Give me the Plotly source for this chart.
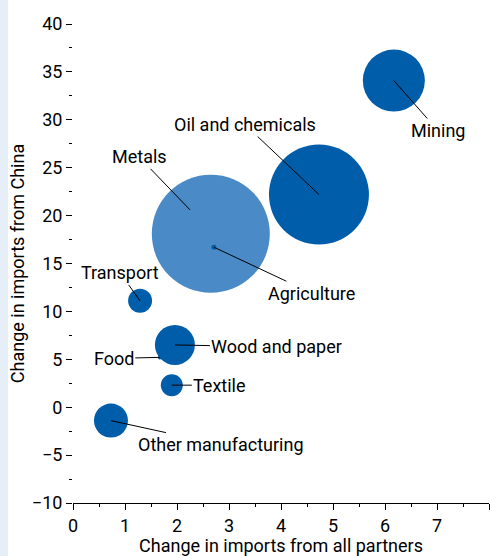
import plotly.graph_objects as go

sectors = ["Mining", "Oil and chemicals", "Metals", "Agriculture", "Transport",
           "Wood and paper", "Food", "Textile", "Other manufacturing"]
x_all = [6.17, 4.73, 2.65, 2.71, 1.29, 1.96, 1.67, 1.90, 0.73]
y_china = [34.1, 22.2, 18.1, 16.7, 11.1, 6.5, 5.2, 2.3, -1.4]
sizes = [62, 100, 118, 5, 24, 40, 4, 22, 34]
colors = ["#005DAA", "#005DAA", "#4A8AC6", "#005DAA", "#005DAA",
          "#005DAA", "#005DAA", "#005DAA", "#005DAA"]
anchor_x = [6.17, 4.73, 2.25, 2.71, 1.29, 1.96, 1.67, 1.90, 0.73]
anchor_y = [34.1, 22.2, 20.6, 16.7, 11.1, 6.5, 5.2, 2.3, -1.4]
offsets = [(44, 50), (-74, -70), (-51, -53), (98, 46), (-20, -28),
           (102, 2), (-46, 1), (48, 0), (110, 24)]

FONT = "Roboto, sans-serif"
FS = 18

fig = go.Figure()
fig.add_trace(go.Scatter(
    x=x_all, y=y_china, mode="markers",
    marker=dict(size=sizes, sizemode="diameter", color=colors, opacity=1,
                line=dict(width=0)),
    hoverinfo="skip", showlegend=False, cliponaxis=False))

for s, ax_, ay_, (dx, dy) in zip(sectors, anchor_x, anchor_y, offsets):
    fig.add_annotation(x=ax_, y=ay_, text=s, showarrow=True, arrowhead=0,
                       arrowwidth=1, arrowcolor="black", ax=dx, ay=dy,
                       standoff=0, font=dict(size=FS, color="black", family=FONT))

fig.add_shape(type="rect", xref="paper", yref="paper", x0=-73 / 416, x1=-65 / 416,
              y0=-0.2, y1=1.2, fillcolor="#E6EEF7", line=dict(width=0), layer="below")

fig.update_layout(
    width=490, height=556, margin=dict(l=73, r=1, t=24, b=53, autoexpand=False),
    plot_bgcolor="white", paper_bgcolor="white",
    font=dict(family=FONT, size=FS, color="black"),
    xaxis=dict(range=[0, 8], tickvals=list(range(9)), ticks="outside", ticklen=6,
               tickcolor="black", showline=True, linecolor="black", showgrid=False,
               zeroline=False, automargin=False, tickfont=dict(color="black"),
               minor=dict(tickvals=[i + 0.5 for i in range(8)], ticks="outside",
                          ticklen=3, tickcolor="black"),
               title=dict(text="Change in imports from all partners", standoff=0,
                          font=dict(size=FS, color="black"))),
    yaxis=dict(range=[-10, 40], tickvals=list(range(-10, 41, 5)),
               ticktext=[str(v).replace("-", "\u2212") for v in range(-10, 41, 5)],
               ticks="outside", ticklen=6, tickcolor="black", showline=False,
               showgrid=False, zeroline=False, mirror="ticks", automargin=False,
               tickfont=dict(color="black"),
               minor=dict(tickvals=[-7.5 + 5 * i for i in range(10)], ticks="outside",
                          ticklen=3, tickcolor="black"),
               title=dict(text="Change in imports from China", standoff=2,
                          font=dict(size=FS, color="black"))),
)
fig.write_html("out.html", config={"displayModeBar": False},
               post_script="document.body.style.margin='0';document.body.style.overflow='hidden';")
